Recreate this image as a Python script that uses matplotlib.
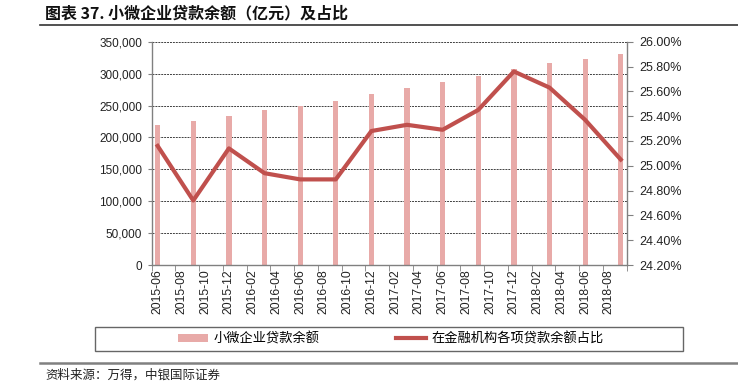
import matplotlib
matplotlib.use("Agg")
import matplotlib.pyplot as plt
from matplotlib.lines import Line2D
from matplotlib.patches import Patch, Rectangle
from matplotlib.ticker import FuncFormatter, FixedLocator

plt.rcParams['font.family'] = ['Liberation Sans', 'Noto Sans CJK SC', 'DejaVu Sans']

# ---- data ----
quarters = ["2015-06", "2015-09", "2015-12", "2016-03", "2016-06", "2016-09", "2016-12",
            "2017-03", "2017-06", "2017-09", "2017-12", "2018-03", "2018-06", "2018-09"]
loan_balance = [220000, 226000, 234000, 243000, 249500, 257000, 267700,
                278000, 286500, 296500, 306500, 317000, 323000, 330500]
loan_share = [25.16, 24.72, 25.14, 24.94, 24.89, 24.89, 25.28,
              25.33, 25.29, 25.45, 25.76, 25.63, 25.37, 25.05]
tick_labels = ["2015-06", "2015-08", "2015-10", "2015-12", "2016-02", "2016-04", "2016-06",
               "2016-08", "2016-10", "2016-12", "2017-02", "2017-04", "2017-06", "2017-08",
               "2017-10", "2017-12", "2018-02", "2018-04", "2018-06", "2018-08"]
series_names = ["小微企业贷款余额", "在金融机构各项贷款余额占比"]
title = "图表 37. 小微企业贷款余额（亿元）及占比"
source = "资料来源：万得，中银国际证券"

def month_index(s):
    y, m = s.split("-")
    return (int(y) - 2015) * 12 + int(m) - 6

bar_x = [month_index(q) for q in quarters]
tick_x = [month_index(t) for t in tick_labels]
n_months = month_index("2018-09") + 1

BAR_C = "#E8AAA8"
LINE_C = "#C0504D"
SPINE_C = "#808080"
CJK = ['Noto Sans CJK SC', 'DejaVu Sans']

fig = plt.figure(figsize=(7.38, 3.89), dpi=100)
ax = fig.add_axes([151.7 / 738, 1 - 265 / 389, (626.7 - 151.7) / 738, (265 - 41.7) / 389])

ax.bar(bar_x, loan_balance, width=0.44, color=BAR_C, zorder=2)
ax.set_xlim(-0.5, n_months - 0.5)
ax.set_ylim(0, 350000)
ax.set_yticks(range(0, 350001, 50000))
ax.yaxis.set_major_formatter(FuncFormatter(lambda v, p: f"{v:,.0f}"))
ax.set_axisbelow(True)
ax.yaxis.grid(True, linestyle=(0, (2, 1)), color="#404040", linewidth=0.7)

ax.set_xticks(tick_x)
ax.set_xticklabels(tick_labels, rotation=90, fontsize=8.8)
ax.tick_params(axis='x', which='major', length=0, pad=3, colors="#222222")
ax.xaxis.set_minor_locator(FixedLocator([i - 0.5 for i in range(0, n_months + 1, 2)]))
ax.tick_params(axis='x', which='minor', length=4, color=SPINE_C, direction='out')
ax.tick_params(axis='y', length=3, color=SPINE_C, labelsize=8.5, labelcolor="#222222", pad=4)

for s in ["top", "right"]:
    ax.spines[s].set_visible(False)
for s in ["left", "bottom"]:
    ax.spines[s].set_color(SPINE_C)
    ax.spines[s].set_linewidth(1.0)

ax2 = ax.twinx()
ax2.plot(bar_x, loan_share, color=LINE_C, linewidth=3, solid_joinstyle='round', zorder=3)
ax2.set_ylim(24.2, 26.0)
ax2.set_yticks([24.2 + 0.2 * i for i in range(10)])
ax2.yaxis.set_major_formatter(FuncFormatter(lambda v, p: f"{v:.2f}%"))
ax2.tick_params(axis='y', length=4, color=SPINE_C, labelsize=9, labelcolor="#222222", pad=5)
for s in ["top", "left", "bottom"]:
    ax2.spines[s].set_visible(False)
ax2.spines["right"].set_color(SPINE_C)
ax2.spines["right"].set_linewidth(1.0)

# title
fig.text(45 / 738, 1 - 13 / 389, title, fontsize=11.5, fontweight='bold',
         family=CJK, va='center', ha='left', color="#111111")
fig.add_artist(Line2D([40 / 738, 1], [1 - 25 / 389] * 2, color="#333333", linewidth=1.2))

# legend box + legend
fig.add_artist(Rectangle((95 / 738, 1 - 351 / 389), (683 - 95) / 738, (351 - 327) / 389,
                         transform=fig.transFigure, facecolor='none', edgecolor="#666666",
                         linewidth=1.0))
handles = [Patch(facecolor=BAR_C, edgecolor='none'),
           Line2D([0], [0], color=LINE_C, linewidth=3)]
fig.legend(handles, series_names, loc='center', bbox_to_anchor=(391 / 738, 1 - 339 / 389),
           ncol=2, frameon=False, prop={'family': CJK, 'size': 9.5},
           handlelength=2.3, handletextpad=0.4, columnspacing=5.8, handleheight=0.6)

# source
fig.add_artist(Line2D([40 / 738, 1], [1 - 362.7 / 389] * 2, color="#808080", linewidth=1.8))
fig.text(45 / 738, 1 - 375 / 389, source, fontsize=9, family=CJK, va='center', ha='left',
         color="#222222")

fig.savefig("out.png", dpi=100)
